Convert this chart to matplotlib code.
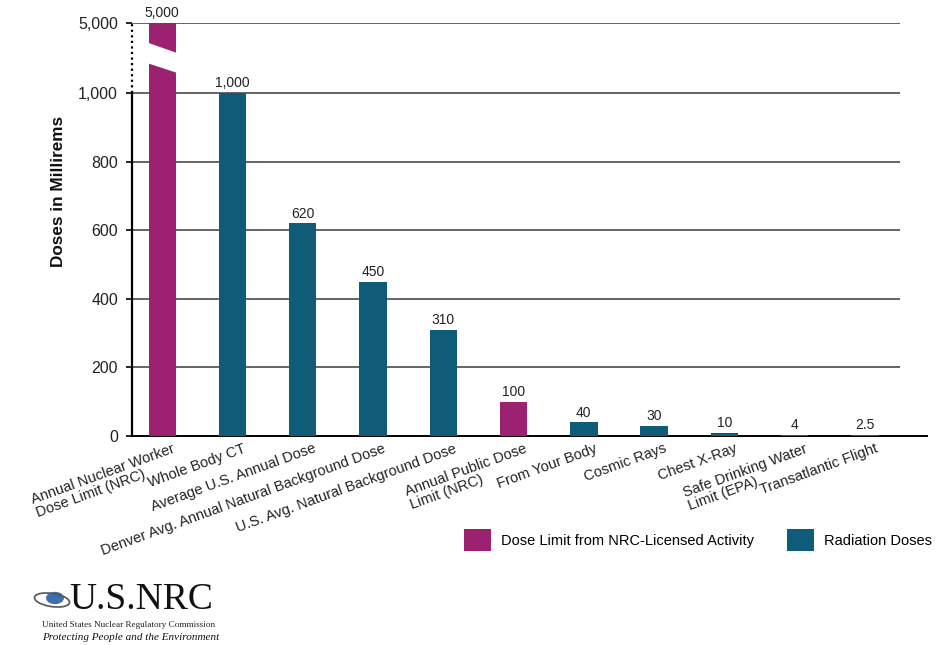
import numpy as np
import matplotlib
matplotlib.use("Agg")
import matplotlib.pyplot as plt
from matplotlib.patches import Patch, Polygon, Ellipse, Circle
from matplotlib.transforms import ScaledTranslation, blended_transform_factory

plt.rcParams['font.family'] = ['Liberation Sans', 'DejaVu Sans']

categories = [
    "Annual Nuclear Worker\nDose Limit (NRC)",
    "Whole Body CT",
    "Average U.S. Annual Dose",
    "Denver Avg. Annual Natural Background Dose",
    "U.S. Avg. Natural Background Dose",
    "Annual Public Dose\nLimit (NRC)",
    "From Your Body",
    "Cosmic Rays",
    "Chest X-Ray",
    "Safe Drinking Water\nLimit (EPA)",
    "Transatlantic Flight",
]
values = [5000, 1000, 620, 450, 310, 100, 40, 30, 10, 4, 2.5]
value_labels = ["5,000", "1,000", "620", "450", "310", "100", "40", "30", "10", "4", "2.5"]
groups = ["limit", "dose", "dose", "dose", "dose", "limit", "dose", "dose", "dose", "dose", "dose"]
yticks = [0, 200, 400, 600, 800, 1000, 5000]
ytick_labels = ["0", "200", "400", "600", "800", "1,000", "5,000"]
legend_labels = {"limit": "Dose Limit from NRC-Licensed Activity", "dose": "Radiation Doses"}

colors = {"limit": "#9C2170", "dose": "#0E5C78"}

BREAK = 1000
K = 0.051

def fwd(y):
    y = np.asarray(y, dtype=float)
    return np.where(y <= BREAK, y, BREAK + (y - BREAK) * K)

def inv(z):
    z = np.asarray(z, dtype=float)
    return np.where(z <= BREAK, z, BREAK + (z - BREAK) / K)

fig = plt.figure(figsize=(9.39, 6.45), dpi=100)
ax = fig.add_axes([132/939, 1-436/645, (900-132)/939, (436-23)/645])
ax.set_yscale('function', functions=(fwd, inv))

x = np.arange(len(categories))
bar_colors = [colors[g] for g in groups]
ax.bar(x, values, width=0.39, color=bar_colors, zorder=5)

ax.set_xlim(-0.43, 10.5)
ax.set_ylim(0, 5000)

# value labels
for xi, v, lab in zip(x, values, value_labels):
    ax.annotate(lab, (xi, v), xytext=(0, 2), textcoords='offset points',
                ha='center', va='bottom', fontsize=10, color='#222222')

# grid lines
for t in yticks[1:]:
    ax.axhline(t, color='#3a3a3a', lw=1.1, zorder=1)

# axis lines
for s in ax.spines.values():
    s.set_visible(False)
ytr = ax.get_yaxis_transform()
ax.plot([0, 0], [0, 1000], color='black', lw=1.6, transform=ytr, clip_on=False, zorder=4)
ax.plot([0, 0], [1000, 5000], color='black', lw=1.6, ls=(0, (1, 1.5)), transform=ytr,
        clip_on=False, zorder=4)
ax.plot([0, 1.035], [0, 0], color='black', lw=1.4, transform=ytr, clip_on=False, zorder=4)

# break in the first bar
btr = blended_transform_factory(ax.transData, ax.transAxes)
xl, xr = x[0] - 0.25, x[0] + 0.25
poly = Polygon([(xl, 0.955), (xr, 0.925), (xr, 0.877), (xl, 0.905)],
               closed=True, facecolor='white', edgecolor='none', transform=btr, zorder=6)
ax.add_patch(poly)

ax.set_yticks(yticks)
ax.set_yticklabels(ytick_labels, fontsize=11.5, color='#222222')
ax.tick_params(axis='y', length=4, width=1.2, color='black', pad=6)
ax.yaxis.set_minor_locator(matplotlib.ticker.NullLocator())

ax.set_xticks(x)
ax.set_xticklabels(categories, rotation=20, ha='right', rotation_mode='anchor',
                   fontsize=10.5, multialignment='left', linespacing=1.05,
                   color='#222222')
ax.tick_params(axis='x', length=0, pad=4)
off = ScaledTranslation(10/100, 0, fig.dpi_scale_trans)
for lab in ax.get_xticklabels():
    lab.set_transform(lab.get_transform() + off)

fig.text(59/939, 1-191/645, "Doses in Millirems", rotation=90, fontsize=12.3,
         fontweight='bold', ha='center', va='center', color='#111111')

handles = [Patch(facecolor=colors["limit"]), Patch(facecolor=colors["dose"])]
fig.legend(handles, [legend_labels["limit"], legend_labels["dose"]], ncol=2,
           loc='center', bbox_to_anchor=(698/939, 1-540/645), frameon=False,
           fontsize=10.5, handlelength=1.9, handleheight=1.9, handletextpad=0.7,
           columnspacing=2.2)

# logo
fig.text(69/939, 1-609/645, "U.S.NRC", fontsize=27, family='Liberation Serif',
         ha='left', va='baseline', color='#111111')
fig.text(42/939, 1-625/645, "United States Nuclear Regulatory Commission", fontsize=6.6,
         family='Liberation Serif', ha='left', va='center', color='#222222')
fig.text(42/939, 1-637/645, "Protecting People and the Environment", fontsize=8.0,
         family='Liberation Serif', style='italic', ha='left', va='center', color='#111111')
fig.patches.append(Circle((55/939, 1-598/645), 9/939, transform=fig.transFigure,
                          facecolor='#3f6fb0', edgecolor='none'))
fig.patches.append(Ellipse((52/939, 1-600/645), 36/939, 13/645, angle=-15,
                           transform=fig.transFigure, facecolor='none',
                           edgecolor='#555555', lw=1.2))

fig.savefig("out.png", dpi=100, facecolor='white')
